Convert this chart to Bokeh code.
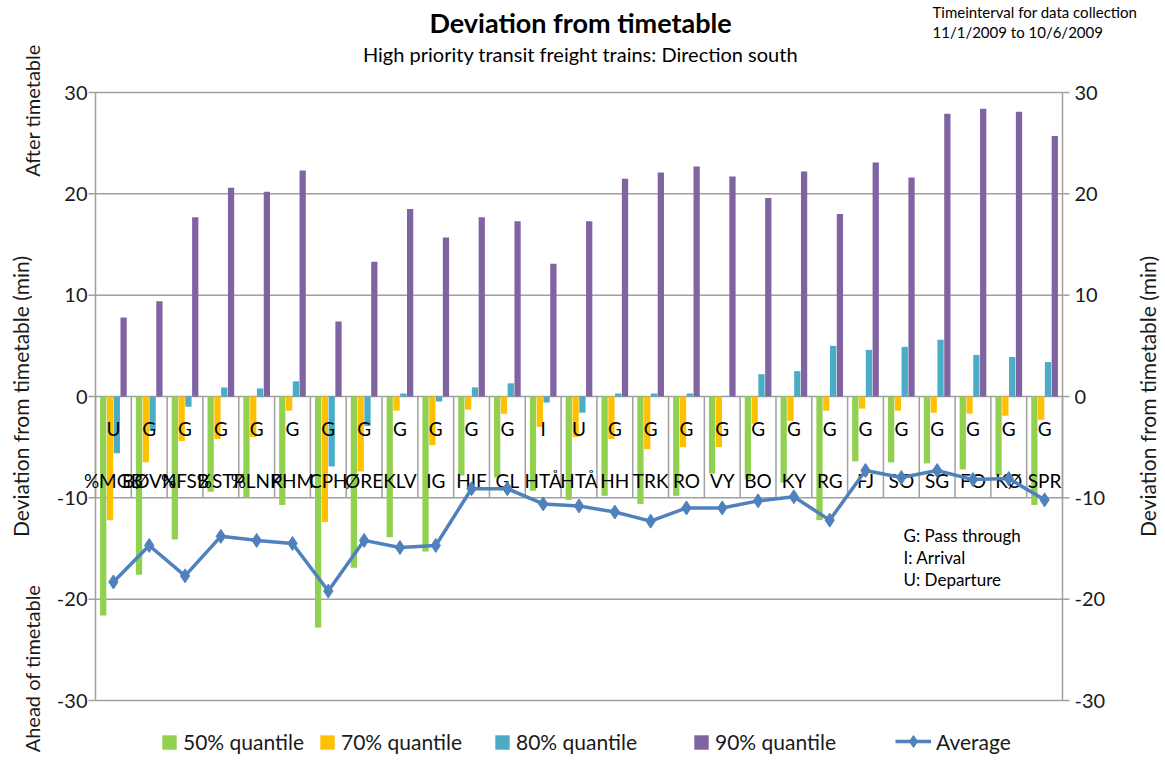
import math
from bokeh.plotting import figure
from bokeh.models import Range1d, Legend, LegendItem, ColumnDataSource
from bokeh.transform import dodge
from bokeh.core.properties import value
from bokeh.embed import file_html
from bokeh.resources import INLINE

# ---------------- data ----------------
stations = ["%MGB", "BØVN", "%FSB", "%STP", "%LNK", "PHM", "CPH", "ØRE", "KLV", "IG",
            "HIF", "GL", "HTÅ", "HTÅ", "HH", "TRK", "RO", "VY", "BO", "KY",
            "RG", "FJ", "SO", "SG", "FO", "KØ", "SPR"]
flags = ["U", "G", "G", "G", "G", "G", "G", "G", "G", "G",
         "G", "G", "I", "U", "G", "G", "G", "G", "G", "G",
         "G", "G", "G", "G", "G", "G", "G"]
q50 = [-21.6, -17.6, -14.1, -9.4, -10.0, -10.7, -22.8, -16.9, -13.9, -15.3,
       -7.8, -8.0, -9.3, -10.2, -9.8, -10.6, -9.8, -7.6, -8.2, -8.5,
       -12.2, -6.4, -6.5, -6.6, -7.2, -7.8, -10.7]
q70 = [-12.2, -6.5, -4.4, -4.2, -4.0, -1.4, -12.4, -7.4, -1.4, -4.8,
       -1.3, -1.7, -3.0, -4.0, -4.2, -5.2, -5.0, -5.0, -2.7, -2.4,
       -1.4, -1.2, -1.4, -1.6, -1.7, -1.9, -2.3]
q80 = [-5.6, -3.4, -1.0, 0.9, 0.8, 1.5, -6.9, -2.9, 0.3, -0.5,
       0.9, 1.3, -0.6, -1.6, 0.3, 0.3, 0.3, 0.05, 2.2, 2.5,
       5.0, 4.6, 4.9, 5.6, 4.1, 3.9, 3.4]
q90 = [7.8, 9.4, 17.7, 20.6, 20.2, 22.3, 7.4, 13.3, 18.5, 15.7,
       17.7, 17.3, 13.1, 17.3, 21.5, 22.1, 22.7, 21.7, 19.6, 22.2,
       18.0, 23.1, 21.6, 27.9, 28.4, 28.1, 25.7]
average = [-18.3, -14.7, -17.7, -13.8, -14.2, -14.5, -19.2, -14.2, -14.9, -14.7,
           -9.1, -9.1, -10.6, -10.8, -11.4, -12.3, -11.0, -11.0, -10.3, -9.9,
           -12.2, -7.3, -8.0, -7.3, -8.2, -8.1, -10.2]
y_ticks = [-30, -20, -10, 0, 10, 20, 30]
y_tick_labels = ["-30", "-20", "-10", "0", "10", "20", "30"]
series_names = ["50% quantile", "70% quantile", "80% quantile", "90% quantile"]
series_colors = ["#92D050", "#FFC000", "#4BACC6", "#8064A2"]
avg_name = "Average"
avg_color = "#4F81BD"

FONT = "Lato"
GRAY = "#A0A0A0"
TXT = "#1a1a1a"
n = len(stations)
xs = list(range(1, n + 1))
src = ColumnDataSource(dict(x=xs, st=stations, fl=flags, q50=q50, q70=q70,
                            q80=q80, q90=q90, avg=average))

# layout (page pixels) of the plot frame
FL, FR, FT, FB = 95, 1062, 92, 700
W, H = 1163, 758
PXU = (FR - FL) / n           # px per category
PYU = (FB - FT) / 60.0        # px per minute
Y0 = (FT + FB) / 2.0          # pixel of value 0


def px_x(px):
    return 0.5 + (px - FL) / PXU


def px_y(py):
    return (Y0 - py) / PYU


p = figure(width=W, height=H, output_backend="svg", toolbar_location=None,
           x_range=Range1d(px_x(0), px_x(W)), y_range=Range1d(px_y(H), px_y(0)),
           x_axis_location=None, y_axis_location=None,
           min_border=0, min_border_left=0, min_border_right=0,
           min_border_top=0, min_border_bottom=0)
p.outline_line_color = None
p.xgrid.visible = False
p.ygrid.visible = False
p.background_fill_color = "white"
p.border_fill_color = "white"

x_left = 0.5
x_right = n + 0.5
m = len(y_ticks)

# gridlines
p.segment(x0=[x_left] * m, y0=y_ticks, x1=[x_right] * m, y1=y_ticks,
          line_color=GRAY, line_width=1.5)
# axis lines
p.segment(x0=[x_left, x_right], y0=[y_ticks[0]] * 2, x1=[x_left, x_right], y1=[y_ticks[-1]] * 2,
          line_color=GRAY, line_width=1.5)
# ticks
tick_len = 7 / PXU
p.segment(x0=[x_left - tick_len] * m, y0=y_ticks, x1=[x_left] * m,
          y1=y_ticks, line_color=GRAY, line_width=1.5)
p.segment(x0=[x_right] * m, y0=y_ticks, x1=[x_right + tick_len] * m,
          y1=y_ticks, line_color=GRAY, line_width=1.5)
# tick labels
p.text(x=[px_x(87)] * m, y=y_ticks, text=y_tick_labels, text_align="right",
       text_baseline="middle", text_font=value(FONT), text_font_size="20px", text_color=TXT)
p.text(x=[px_x(1074)] * m, y=y_ticks, text=y_tick_labels, text_align="left",
       text_baseline="middle", text_font=value(FONT), text_font_size="20px", text_color=TXT)

# category separator lines (label table)
bounds = [k + 0.5 for k in range(0, n + 1)]
p.segment(x0=bounds, y0=[0] * len(bounds), x1=bounds, y1=[-10] * len(bounds),
          line_color=GRAY, line_width=1.5)

# bars
pitch = 0.19
bw = 0.175
offs = [-1.5 * pitch, -0.5 * pitch, 0.5 * pitch, 1.5 * pitch]
bar_rs = []
for col, c, o in zip(["q50", "q70", "q80", "q90"], series_colors, offs):
    r = p.vbar(x=dodge("x", o, range=p.x_range), top=col, bottom=0, width=bw,
               source=src, fill_color=c, line_color=None)
    bar_rs.append(r)

# category texts
p.text(x="x", y=px_y(428), text="fl", source=src, text_align="center", text_baseline="middle",
       text_font=value(FONT), text_font_size="19px", text_color="black")
p.text(x="x", y=px_y(480), text="st", source=src, text_align="center", text_baseline="middle",
       text_font=value(FONT), text_font_size="19px", text_color="black")

# average line
lr = p.line(x="x", y="avg", source=src, line_color=avg_color, line_width=3.5)
sr = p.scatter(x="x", y="avg", source=src, marker="diamond", size=14,
               fill_color=avg_color, line_color=avg_color)


def txt(x, y, s, size, align="left", style="normal", angle=0.0, color="black"):
    p.text(x=[x], y=[y], text=[s], text_align=align, text_baseline="middle", angle=angle,
           text_font=value(FONT), text_font_size=size, text_font_style=style,
           text_color=color)


txt(px_x(580), px_y(22), "Deviation from timetable", "27px", "center", "bold")
txt(px_x(580), px_y(53), "High priority transit freight trains: Direction south", "20px", "center")
txt(px_x(932), px_y(11), "Timeinterval for data collection", "15px")
txt(px_x(932), px_y(31), "11/1/2009  to 10/6/2009", "15px")
for t, yy in [("G: Pass through", 535), ("I: Arrival", 557), ("U: Departure", 579)]:
    txt(px_x(903), px_y(yy), t, "17px")

txt(px_x(31), px_y(110), "After timetable", "20px", "center", angle=math.pi / 2, color=TXT)
txt(px_x(31), px_y(668), "Ahead of timetable", "20px", "center", angle=math.pi / 2, color=TXT)
txt(px_x(20), px_y(396), "Deviation from timetable (min)", "21px", "center",
    angle=math.pi / 2, color=TXT)
txt(px_x(1147), px_y(396), "Deviation from timetable (min)", "21px", "center",
    angle=math.pi / 2, color=TXT)

# ---------- legends ----------
leg_x = [160, 318, 493, 692, 895]
items = [(series_names[i], [bar_rs[i]]) for i in range(4)] + [(avg_name, [lr, sr])]
for (lab, rs), lx in zip(items, leg_x):
    is_avg = lab == avg_name
    gh = 30 if is_avg else 18
    shift = 2 if is_avg else -2
    lg = Legend(items=[LegendItem(label=lab, renderers=rs)],
                location=(lx, H - 743 - gh // 2 + shift), orientation="horizontal",
                label_text_font=FONT, label_text_font_size="21px",
                label_height=18, label_text_color=TXT,
                glyph_width=36 if is_avg else 18, glyph_height=gh,
                label_standoff=5, padding=0, margin=0, spacing=0,
                border_line_color=None, background_fill_alpha=0)
    p.add_layout(lg)

open("out.html", "w").write(file_html(p, INLINE))
